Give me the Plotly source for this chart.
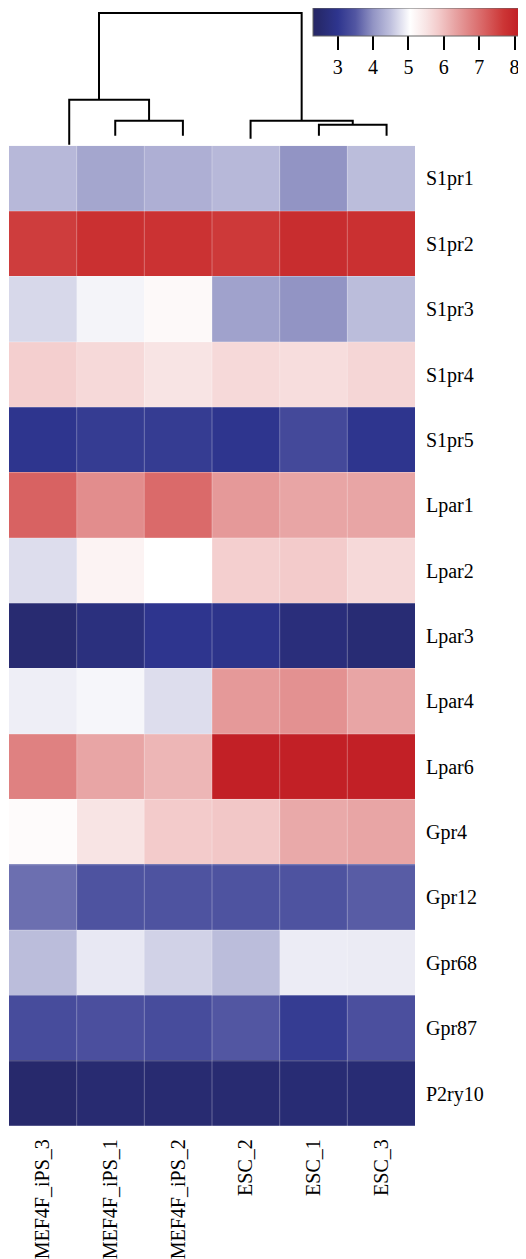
import plotly.graph_objects as go

samples = ["MEF4F_iPS_3", "MEF4F_iPS_1", "MEF4F_iPS_2", "ESC_2", "ESC_1", "ESC_3"]
genes = ["S1pr1", "S1pr2", "S1pr3", "S1pr4", "S1pr5", "Lpar1", "Lpar2", "Lpar3",
         "Lpar4", "Lpar6", "Gpr4", "Gpr12", "Gpr68", "Gpr87", "P2ry10"]

S1pr1 = [4.40, 4.20, 4.30, 4.40, 4.00, 4.45]
S1pr2 = [7.60, 7.80, 7.75, 7.65, 7.85, 7.80]
S1pr3 = [4.70, 4.95, 5.15, 4.15, 4.00, 4.45]
S1pr4 = [5.80, 5.65, 5.50, 5.65, 5.60, 5.70]
S1pr5 = [3.00, 3.10, 3.10, 3.00, 3.30, 3.00]
Lpar1 = [7.15, 6.60, 7.05, 6.45, 6.30, 6.30]
Lpar2 = [4.75, 5.25, 5.05, 5.80, 5.85, 5.65]
Lpar3 = [2.55, 2.75, 3.00, 2.95, 2.70, 2.60]
Lpar4 = [4.90, 4.97, 4.75, 6.45, 6.55, 6.30]
Lpar6 = [6.75, 6.30, 6.10, 8.10, 8.10, 8.10]
Gpr4 = [5.12, 5.50, 5.85, 5.90, 6.25, 6.30]
Gpr12 = [3.70, 3.45, 3.45, 3.45, 3.45, 3.55]
Gpr68 = [4.45, 4.85, 4.65, 4.45, 4.88, 4.87]
Gpr87 = [3.35, 3.40, 3.35, 3.50, 3.10, 3.40]
P2ry10 = [2.45, 2.55, 2.55, 2.55, 2.60, 2.60]

z = [S1pr1, S1pr2, S1pr3, S1pr4, S1pr5, Lpar1, Lpar2, Lpar3,
     Lpar4, Lpar6, Gpr4, Gpr12, Gpr68, Gpr87, P2ry10]

colorbar_ticks = [3, 4, 5, 6, 7, 8]

# Dendrogram (column clustering): leaf positions, leaf bottom heights, merges
leaf_x = [0.39, 1.07, 2.07, 3.07, 4.08, 5.08]
leaf_h = [1, 10, 10, 7, 10, 10]
# merges: (left child, right child, height, link point or None for midpoint)
merges = [
    (1, 2, 25, None),          # n0: iPS_1 + iPS_2
    (0, "n0", 46, 0.83),       # n1: iPS_3 + n0
    (4, 5, 21, None),          # n2: ESC_1 + ESC_3
    (3, "n2", 25, None),       # n3: ESC_2 + n2
    ("n1", "n3", 133, None),   # n4: root
]

CMIN, CMAX = 2.3, 8.24
scale_pts = [
    (2.30, "#272766"), (2.50, "#272a6e"), (3.00, "#2e358e"), (3.50, "#5256a2"),
    (4.00, "#9294c4"), (4.50, "#c0c1de"), (4.90, "#eeeef6"), (5.05, "#ffffff"),
    (5.50, "#f8e4e4"), (5.85, "#f3cbcb"), (6.30, "#e8a5a5"), (6.70, "#e08585"),
    (7.10, "#d96666"), (7.70, "#cc3535"), (8.10, "#c22026"), (8.24, "#be2026"),
]
colorscale = [[(v - CMIN) / (CMAX - CMIN), c] for v, c in scale_pts]

# the page body has an 8px margin; lay out in screen pixels minus that offset
OFF = 8
W, H = 526 - OFF, 1259 - OFF
FONT = "Liberation Serif"


def px_x(p):
    return (p - OFF) / W


def px_y(p):
    return 1 - (p - OFF) / H


fig = go.Figure()
fig.add_trace(go.Heatmap(
    z=z, x=samples, y=genes, zmin=CMIN, zmax=CMAX, colorscale=colorscale,
    xaxis="x", yaxis="y",
    colorbar=dict(
        orientation="h", x=px_x(313), xanchor="left", y=1, yanchor="top",
        len=210, lenmode="pixels", thickness=28, thicknessmode="pixels",
        xpad=0, ypad=0, outlinewidth=1, outlinecolor="#666666",
        tickvals=colorbar_ticks, ticks="outside", ticklen=14, tickwidth=2,
        tickcolor="black", tickfont=dict(family=FONT, size=20, color="black"),
    ),
))

# faint cell separators
for i in range(len(samples) - 1):
    fig.add_shape(type="line", xref="x", yref="y domain", x0=i + 0.5, x1=i + 0.5,
                  y0=0, y1=1, line=dict(color="rgba(255,255,255,0.3)", width=1))
for j in range(len(genes) - 1):
    fig.add_shape(type="line", xref="x domain", yref="y", x0=0, x1=1,
                  y0=j + 0.5, y1=j + 0.5, line=dict(color="rgba(255,255,255,0.3)", width=1))

# build dendrogram segments
node_x = {}
node_h = {}
for i, (lx, lh) in enumerate(zip(leaf_x, leaf_h)):
    node_x[i] = lx
    node_h[i] = lh
xs, ys = [], []
for k, (a, b, h, link) in enumerate(merges):
    xa, xb = node_x[a], node_x[b]
    xs += [xa, xa, xb, xb, None]
    ys += [node_h[a], h, h, node_h[b], None]
    node_x["n%d" % k] = (xa + xb) / 2 if link is None else link
    node_h["n%d" % k] = h

fig.add_trace(go.Scatter(
    x=xs, y=ys, mode="lines", line=dict(color="black", width=2),
    xaxis="x2", yaxis="y2", hoverinfo="skip", showlegend=False,
))

x0, x1 = px_x(9), px_x(415)
ytop, ybot = px_y(146), px_y(1128)
fig.update_layout(
    width=W, height=H, margin=dict(l=0, r=0, t=0, b=0),
    paper_bgcolor="white", plot_bgcolor="white",
    font=dict(family=FONT, size=20, color="black"),
    showlegend=False,
    xaxis=dict(domain=[x0, x1], anchor="y", tickangle=-90, showgrid=False,
               zeroline=False, ticks="", ticklabelstandoff=8,
               tickfont=dict(family=FONT, size=20, color="black")),
    yaxis=dict(domain=[ybot, ytop], anchor="x", side="right", autorange="reversed",
               showgrid=False, zeroline=False, ticks="", ticklabelstandoff=10,
               tickfont=dict(family=FONT, size=20, color="black")),
    xaxis2=dict(domain=[x0, x1], anchor="y2", range=[-0.5, 5.5], visible=False),
    yaxis2=dict(domain=[ytop, 1], anchor="x2", range=[0, 146 - OFF], visible=False),
)

fig.write_html("out.html")
